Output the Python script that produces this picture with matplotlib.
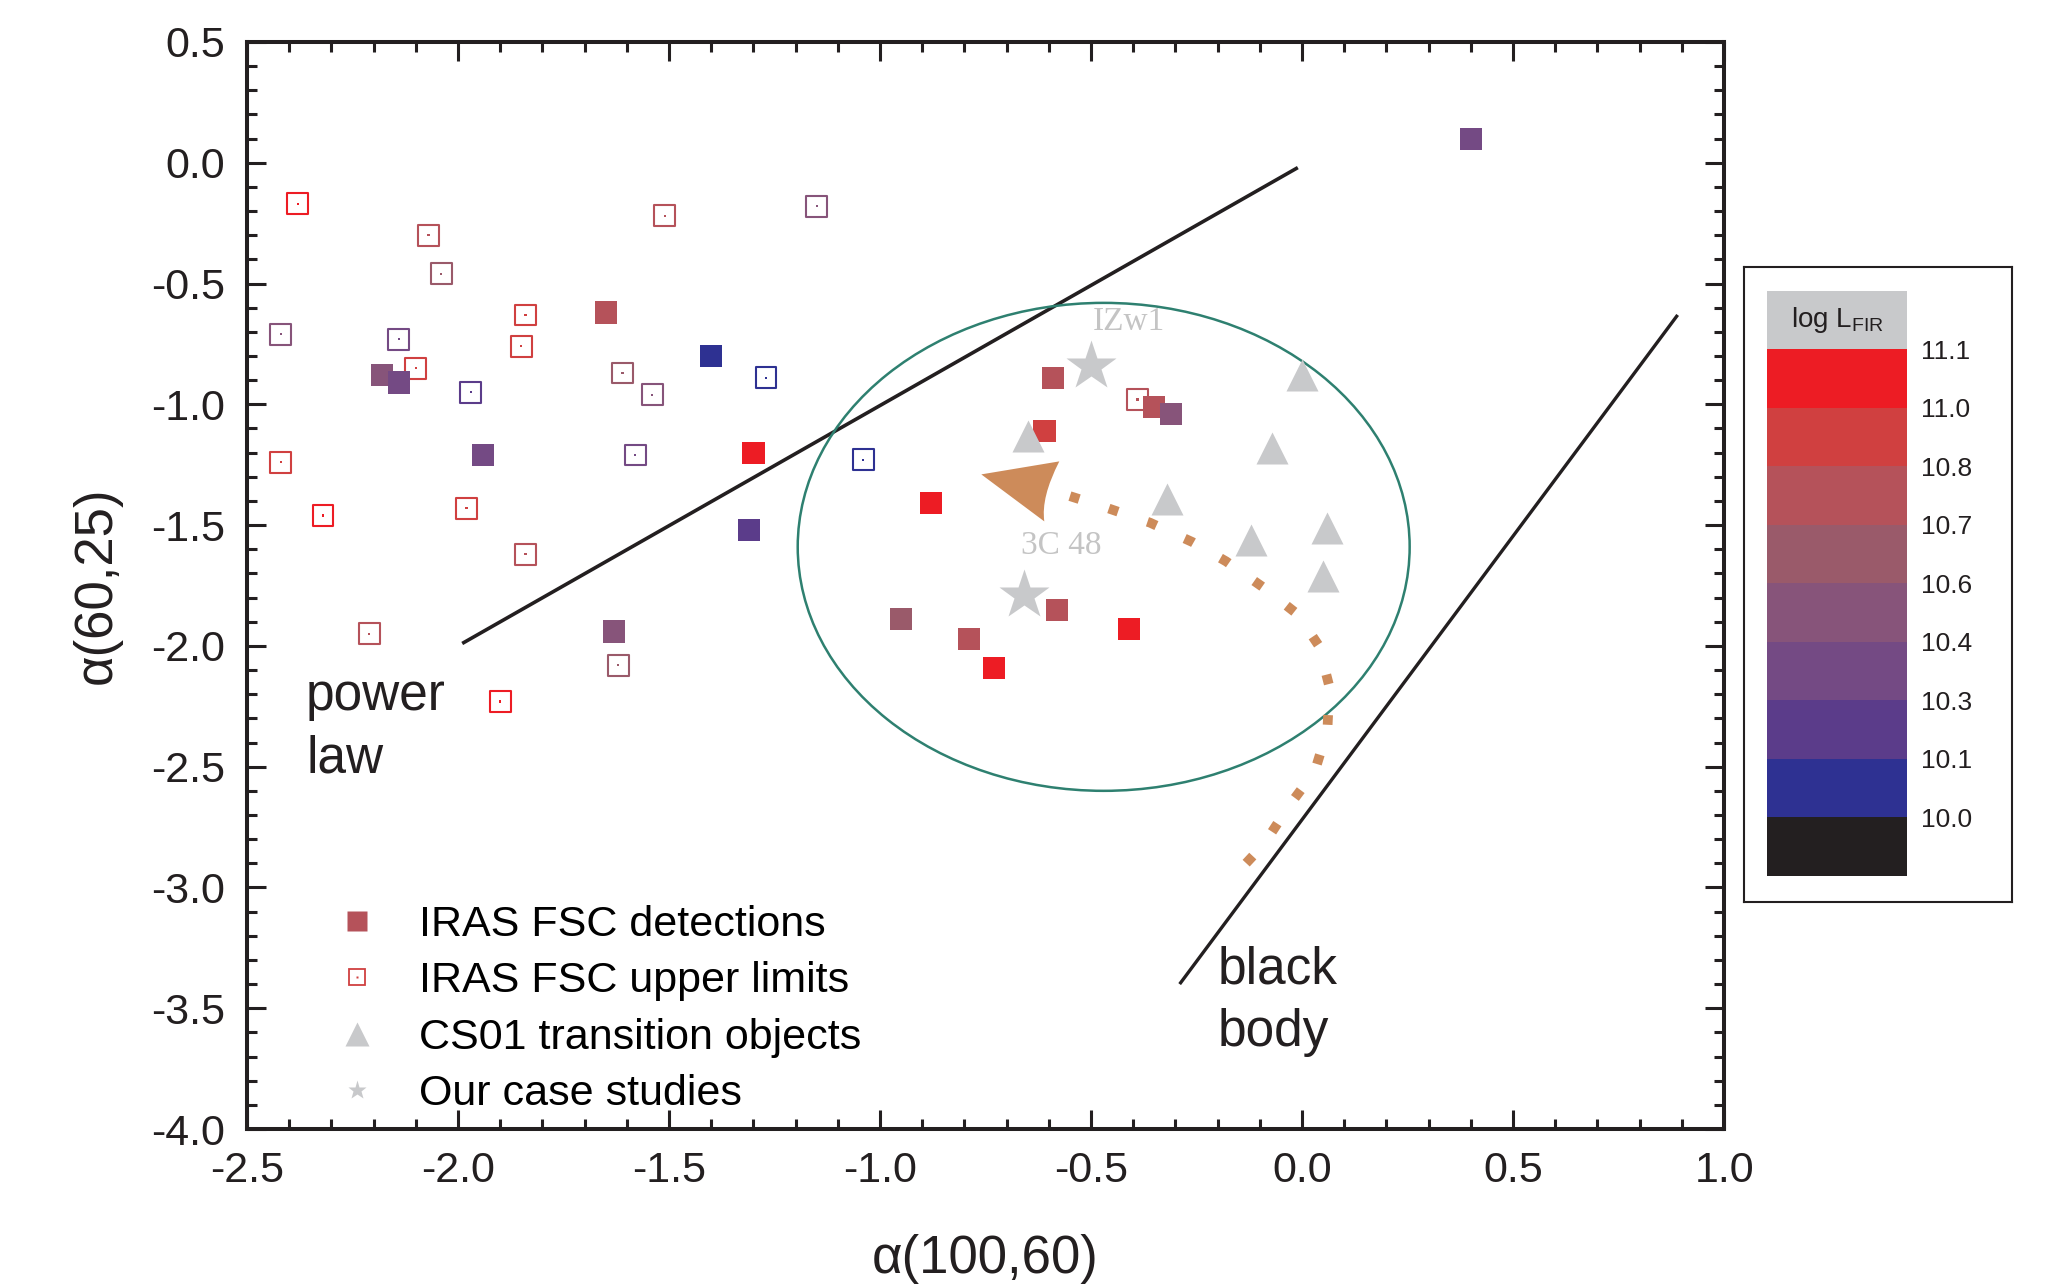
import matplotlib
matplotlib.use('Agg')
import matplotlib.pyplot as plt
from matplotlib.colors import ListedColormap, BoundaryNorm
from matplotlib.patches import Ellipse, PathPatch
from matplotlib.path import Path
from matplotlib.lines import Line2D
from matplotlib.transforms import Affine2D, ScaledTranslation
from matplotlib.ticker import MultipleLocator, FormatStrFormatter

plt.rcParams['font.family'] = ['Liberation Sans', 'DejaVu Sans']
plt.rcParams['mathtext.default'] = 'regular'

# IRAS FSC detections: alpha(100,60), alpha(60,25), log L_FIR
DET_X = [0.40, -1.65, -1.40, -2.18, -2.14, -1.94, -1.30, -1.31, -1.63, -0.59,
         -0.61, -0.35, -0.31, -0.88, -0.95, -0.79, -0.73, -0.58, -0.41]
DET_Y = [0.10, -0.62, -0.80, -0.88, -0.91, -1.21, -1.20, -1.52, -1.94, -0.89,
         -1.11, -1.01, -1.04, -1.41, -1.89, -1.97, -2.09, -1.85, -1.93]
DET_L = [10.35, 10.75, 10.05, 10.5, 10.35, 10.35, 11.05, 10.2, 10.5, 10.75,
         10.9, 10.75, 10.5, 11.05, 10.65, 10.75, 11.05, 10.75, 11.05]

# IRAS FSC upper limits
UL_X = [-2.38, -1.51, -1.15, -2.07, -2.04, -2.42, -1.84, -1.85, -2.14, -2.10,
        -1.61, -1.54, -1.97, -1.27, -1.58, -1.04, -2.42, -1.98, -2.32, -1.84,
        -2.21, -1.62, -1.90, -0.39]
UL_Y = [-0.17, -0.22, -0.18, -0.30, -0.46, -0.71, -0.63, -0.76, -0.73, -0.85,
        -0.87, -0.96, -0.95, -0.89, -1.21, -1.23, -1.24, -1.43, -1.46, -1.62,
        -1.95, -2.08, -2.23, -0.98]
UL_L = [11.05, 10.75, 10.5, 10.75, 10.65, 10.5, 10.9, 10.9, 10.35, 10.9,
        10.65, 10.5, 10.2, 10.05, 10.35, 10.05, 10.9, 10.9, 11.05, 10.75,
        10.75, 10.65, 11.05, 10.75]

# CS01 transition objects
TR_X = [0.00, -0.07, -0.65, -0.32, -0.12, 0.06, 0.05]
TR_Y = [-0.88, -1.18, -1.13, -1.39, -1.56, -1.51, -1.71]

# our case studies
CASE_X = [-0.50, -0.66]
CASE_Y = [-0.84, -1.79]
CASE_NAMES = ['IZw1', '3C 48']
CASE_LABEL_X = [-0.41, -0.57]
CASE_LABEL_Y = [-0.66, -1.585]

# power law and black body lines
PL_X = [-1.99, -0.01]
PL_Y = [-1.99, -0.02]
BB_X = [-0.29, 0.89]
BB_Y = [-3.40, -0.63]

# track of 3C 48 (dotted) ending in the arrow head
TRACK_X = [-0.55, -0.46, -0.36, -0.26, -0.18, -0.09, -0.01, 0.04, 0.065,
           0.06, 0.03, -0.03, -0.09, -0.17]
TRACK_Y = [-1.38, -1.43, -1.49, -1.57, -1.65, -1.76, -1.87, -2.00, -2.17,
           -2.35, -2.52, -2.66, -2.82, -2.97]
ARROW_TIP = (-0.76, -1.29)

# region around the transition objects
ELL_CENTER = (-0.47, -1.59)
ELL_W = 1.45
ELL_H = 2.02

# log L_FIR colour scale
LUM_BOUNDS = [9.9, 10.0, 10.1, 10.3, 10.4, 10.6, 10.7, 10.8, 11.0, 11.1]
LUM_COLORS = ['#231f20', '#2e3192', '#5b3c8a', '#744a84', '#87547a',
              '#9a5a6a', '#b5525a', '#d04040', '#ed1c24']
LUM_LABELS = ['10.0', '10.1', '10.3', '10.4', '10.6', '10.7', '10.8', '11.0', '11.1']

GRAY = '#c8c9cb'
ORANGE = '#cd8b5a'

cmap = ListedColormap(LUM_COLORS)
norm = BoundaryNorm(LUM_BOUNDS, cmap.N)

fig = plt.figure(figsize=(20.65, 12.84), dpi=100)
ax = fig.add_axes([0.1196, 0.1207, 0.7153, 0.8466])

ax.plot(PL_X, PL_Y, color='#231f20', lw=2.6, solid_capstyle='butt', zorder=2)
ax.plot(BB_X, BB_Y, color='#231f20', lw=2.4, solid_capstyle='butt', zorder=2)
ax.add_patch(Ellipse(ELL_CENTER, ELL_W, ELL_H, fill=False, ec='#2e8070', lw=1.8, zorder=2))

# upper limits: open squares with a dot
ul_cols = cmap(norm(UL_L))
ax.scatter(UL_X, UL_Y, marker='s', s=15**2, facecolors='none', edgecolors=ul_cols,
           linewidths=1.5, zorder=3)
ax.scatter(UL_X, UL_Y, marker='s', s=1.6**2, c=ul_cols, linewidths=0, zorder=3)

# detections
ax.scatter(DET_X, DET_Y, marker='s', s=16**2, c=DET_L, cmap=cmap, norm=norm,
           linewidths=0, zorder=4)

# track of 3C 48
ax.plot(TRACK_X, TRACK_Y, color=ORANGE, lw=7, ls=(0, (1, 3.2)),
        dash_capstyle='butt', zorder=4)
head = Path([(0, 0), (78, 13), (59.5, -23), (63, -47), (0, 0)],
            [Path.MOVETO, Path.LINETO, Path.CURVE3, Path.CURVE3, Path.CLOSEPOLY])
head_tr = Affine2D().scale(fig.dpi / 100) + ScaledTranslation(ARROW_TIP[0], ARROW_TIP[1], ax.transData)
ax.add_patch(PathPatch(head, fc=ORANGE, ec='none', transform=head_tr, zorder=5))

ax.plot(TR_X, TR_Y, ls='none', marker='^', ms=23, mfc=GRAY, mec='none', zorder=5)
ax.plot(CASE_X, CASE_Y, ls='none', marker='*', ms=38, mfc=GRAY, mec='none', zorder=6)
for name, lx, ly in zip(CASE_NAMES, CASE_LABEL_X, CASE_LABEL_Y):
    ax.text(lx, ly, name, color='#c4c4c4', fontsize=24, family='Liberation Serif',
            ha='center', va='center', zorder=6)

ax.text(-2.36, -2.34, 'power\nlaw', fontsize=37, ha='left', va='center',
        linespacing=1.36, color='#231f20')
ax.text(-0.20, -3.47, 'black\nbody', fontsize=37, ha='left', va='center',
        linespacing=1.36, color='#231f20')

ax.set_xlim(-2.5, 1.0)
ax.set_ylim(-4.0, 0.5)
ax.xaxis.set_major_locator(MultipleLocator(0.5))
ax.xaxis.set_minor_locator(MultipleLocator(0.1))
ax.yaxis.set_major_locator(MultipleLocator(0.5))
ax.yaxis.set_minor_locator(MultipleLocator(0.1))
ax.xaxis.set_major_formatter(FormatStrFormatter('%.1f'))
ax.yaxis.set_major_formatter(FormatStrFormatter('%.1f'))
ax.tick_params(which='both', direction='in', top=True, right=True, color='#231f20',
               labelsize=31, labelcolor='#231f20', pad=16)
ax.tick_params(which='major', length=14, width=2.2)
ax.tick_params(which='minor', length=7.5, width=2.2)
for sp in ax.spines.values():
    sp.set_linewidth(2.9)
    sp.set_color('#231f20')
ax.set_xlabel('\u03b1(100,60)', fontsize=38, labelpad=31, color='#231f20')
ax.set_ylabel('\u03b1(60,25)', fontsize=38, labelpad=21, color='#231f20')

handles = [
    Line2D([], [], ls='none', marker='s', ms=14, mfc='#b5525a', mec='none'),
    (Line2D([], [], ls='none', marker='s', ms=11, mfc='none', mec='#d04040', mew=1.3),
     Line2D([], [], ls='none', marker='s', ms=1.5, mfc='#d04040', mec='none')),
    Line2D([], [], ls='none', marker='^', ms=17, mfc=GRAY, mec='none'),
    Line2D([], [], ls='none', marker='*', ms=14, mfc=GRAY, mec='none'),
]
labels = ['IRAS FSC detections', 'IRAS FSC upper limits',
          'CS01 transition objects', 'Our case studies']
ax.legend(handles, labels, loc='upper left', bbox_to_anchor=(0.057, 0.206),
          frameon=False, fontsize=31, handlelength=1.2, handletextpad=0.85,
          labelspacing=0.38, borderpad=0, borderaxespad=0)

# colour key
box = fig.add_axes([0.8446, 0.2975, 0.1297, 0.4946])
box.set_xticks([])
box.set_yticks([])
for sp in box.spines.values():
    sp.set_linewidth(1.5)
    sp.set_color('#231f20')

cax = fig.add_axes([0.8557, 0.3178, 0.0678, 0.4556])
for i, c in enumerate(LUM_COLORS + [GRAY]):
    cax.bar(0, 1, bottom=i, width=1, color=c, linewidth=0)
cax.set_xlim(-0.5, 0.5)
cax.set_ylim(0, len(LUM_COLORS) + 1)
cax.set_xticks([])
cax.set_yticks(range(1, len(LUM_LABELS) + 1))
cax.set_yticklabels(LUM_LABELS)
cax.yaxis.tick_right()
cax.tick_params(axis='y', length=0, pad=10, labelsize=19, labelcolor='#231f20')
for sp in cax.spines.values():
    sp.set_visible(False)
cax.text(0, len(LUM_COLORS) + 0.5, 'log L$_{FIR}$', fontsize=20, ha='center',
         va='center', color='#231f20')

fig.savefig('out.png', dpi=100)
